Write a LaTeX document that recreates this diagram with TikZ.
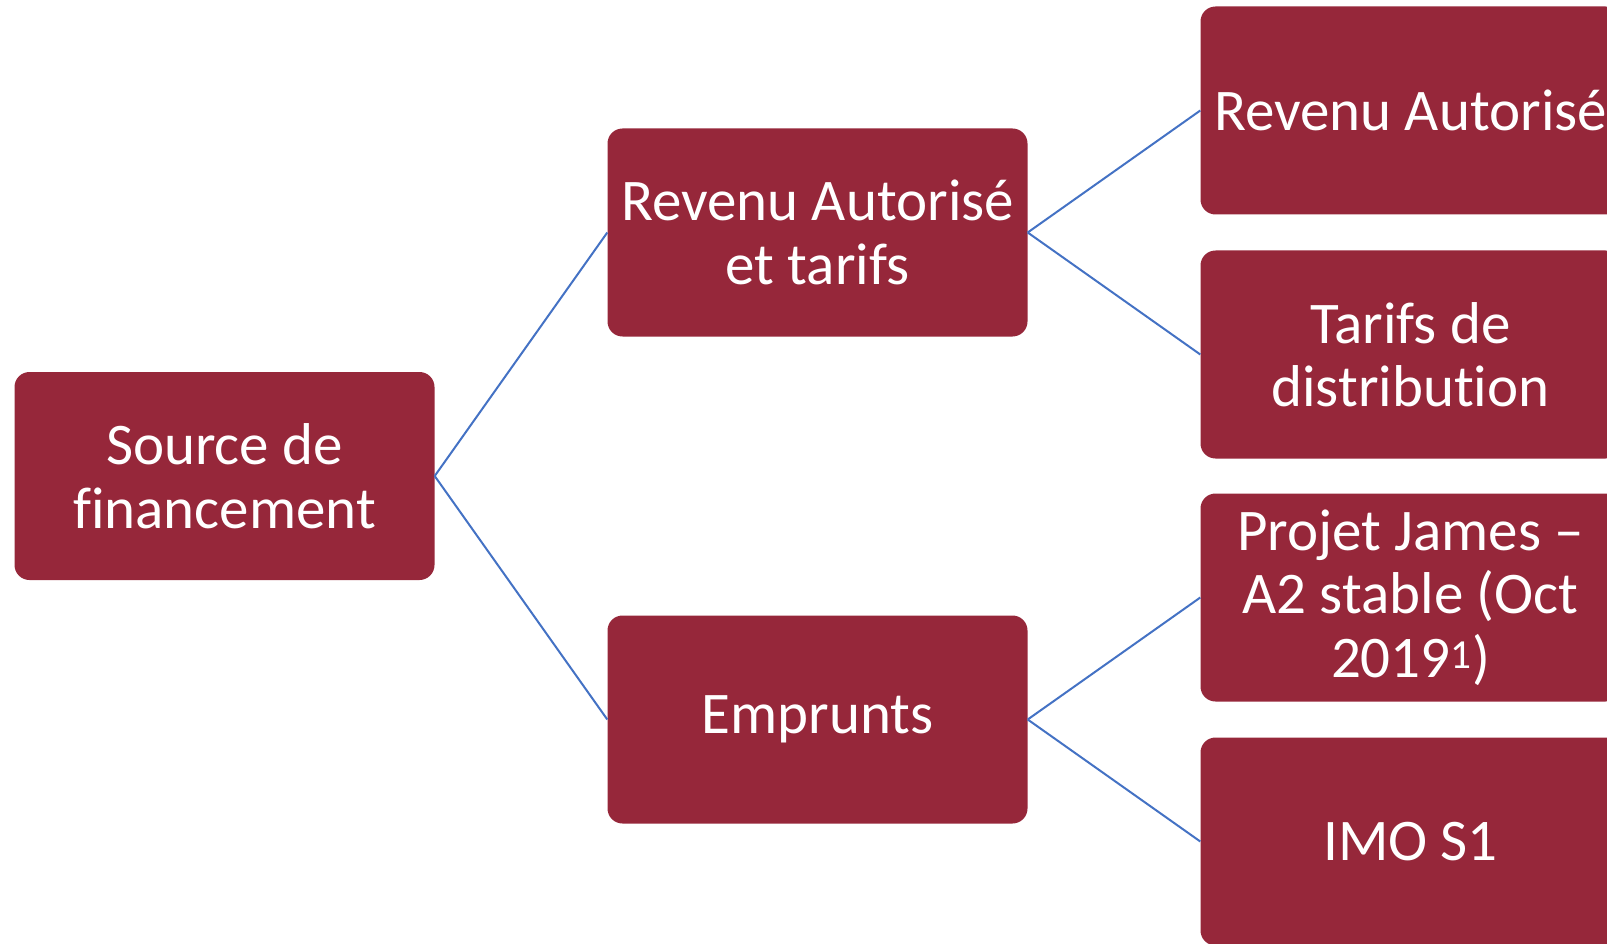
\documentclass[tikz,border=0pt]{standalone}
\usepackage{fontspec}
\setmainfont{Carlito}[Ligatures=NoCommon]
\definecolor{boxred}{RGB}{150,39,58}
\definecolor{edgeblue}{RGB}{68,114,196}
\tikzset{
  fundbox/.style={draw=none, fill=boxred, text=white, rounded corners=15pt,
    minimum width=420pt, minimum height=208pt, align=center,
    font=\fontsize{59}{63.5}\selectfont}
}
\begin{document}
\begin{tikzpicture}[x=1pt, y=1pt,
  grow'=right,
  level distance=593pt,
  level 1/.style={sibling distance=487pt},
  level 2/.style={sibling distance=244pt},
  edge from parent/.style={draw, edgeblue, line width=2pt},
  edge from parent path={(\tikzparentnode.east) -- (\tikzchildnode.west)}]
  \useasboundingbox (0,0) rectangle (1607,-944);
  \clip (0,0) rectangle (1607,-944);

  \node[fundbox] (source) at (224.5,-476) {Source de\\financement}
    child {node[fundbox] (revenu) {Revenu Autorisé\\et tarifs}
      child {node[fundbox] (autorise) {Revenu Autorisé}}
      child {node[fundbox] (tarifs) {Tarifs de\\distribution}}
    }
    child {node[fundbox] (emprunts) {Emprunts}
      child {node[fundbox] (james) {Projet James –\\A2 stable (Oct\\2019\textsuperscript{1})}}
      child {node[fundbox] (imo) {IMO S1}}
    };
\end{tikzpicture}
\end{document}
